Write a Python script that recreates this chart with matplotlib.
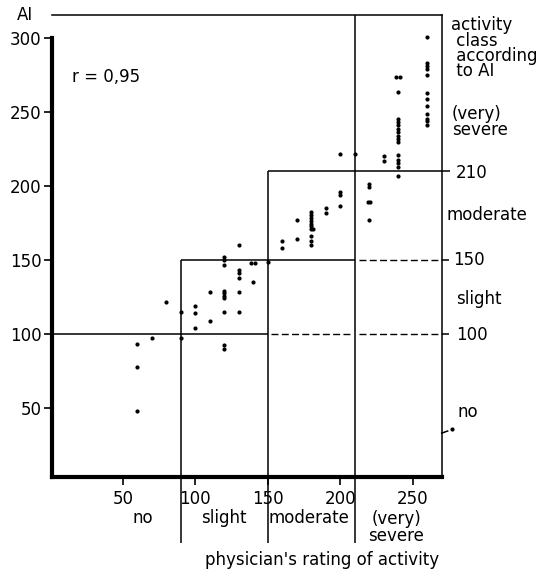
import matplotlib
matplotlib.use("Agg")
import matplotlib.pyplot as plt

plt.rcParams["font.family"] = "DejaVu Sans"
plt.rcParams["font.size"] = 12

# physician's rating (x) and activity index AI (y)
column_x = [60, 70, 80, 90, 100, 110, 120, 130, 138.5, 141, 140, 150,
            160, 170, 180, 181, 190, 200, 210, 220, 219.3, 220.7,
            230, 238.8, 241.5, 240, 260]
column_ai = [
    [92.7, 77.5, 47.7],
    [97.0],
    [121.5],
    [114.5, 97.2],
    [118.7, 114.2, 103.7],
    [128.0, 108.6],
    [152.0, 149.8, 146.5, 128.9, 127.3, 125.7, 124.0, 114.6, 92.4, 89.5],
    [160.0, 143.0, 141.0, 137.5, 128.4, 114.6],
    [147.6],
    [147.6],
    [135.2],
    [148.3],
    [162.7, 157.8],
    [176.6, 164.0],
    [182.5, 180.5, 178.5, 176.5, 174.5, 172.5, 170.5, 166.0, 162.8, 160.0],
    [170.5],
    [185.0, 181.7],
    [221.4, 196.1, 193.8, 186.6],
    [221.4],
    [201.5, 199.2, 176.9],
    [189.3],
    [189.3],
    [220.3, 216.8],
    [273.5],
    [273.5],
    [263.5, 245.5, 243.2, 240.9, 238.6, 236.3, 234.0, 231.7, 229.7,
     221.0, 217.5, 215.3, 213.0, 206.5],
    [300.5, 283.2, 281.2, 279.3, 275.0, 263.0, 258.6, 254.2, 248.8,
     245.5, 243.6, 241.5],
]

x_ticks = [50, 100, 150, 200, 250]
y_ticks = [50, 100, 150, 200, 250, 300]

# class limits
x_bounds = [90, 150, 210]
y_bounds = [100, 150, 210]
x_classes = ["no", "slight", "moderate", "(very)\nsevere"]
x_class_pos = [63.7, 120, 178.6, 238.6]

fig = plt.figure(figsize=(5.57, 5.70), dpi=100)
ax = fig.add_axes([52 / 557, 93 / 570, 390 / 557, 462 / 570])
x0, x1 = 1.2, 270.2
y0, y1 = 3, 315.6
ax.set_xlim(x0, x1)
ax.set_ylim(y0, y1)

for s in ["left", "bottom"]:
    ax.spines[s].set_linewidth(3)
for s in ["top", "right"]:
    ax.spines[s].set_linewidth(1.1)
ax.spines["left"].set_bounds(y0, 300)

ax.set_xticks(x_ticks)
ax.set_yticks(y_ticks)
ax.tick_params(direction="out", length=6, width=1.2, labelsize=12)
ax.tick_params(axis="y", pad=1.5)
ax.tick_params(axis="x", pad=3.5)

# points
xs, ys = [], []
for x, col in zip(column_x, column_ai):
    xs += [x] * len(col)
    ys += col
ax.plot(xs, ys, "o", color="k", ms=3, mec="none", zorder=3)

k = dict(color="k", lw=1.1, clip_on=False, solid_capstyle="butt")
dash = dict(color="k", lw=1.0, ls=(0, (5, 2.4)), clip_on=False)
low = -41.5

# staircase of class limits
ax.plot([x0, x_bounds[1]], [y_bounds[0]] * 2, **k)
ax.plot([x_bounds[0], x_bounds[2]], [y_bounds[1]] * 2, **k)
ax.plot([x_bounds[1], 276], [y_bounds[2]] * 2, **k)
ax.plot([x_bounds[0]] * 2, [low, y_bounds[1]], **k)
ax.plot([x_bounds[1]] * 2, [low, y_bounds[2]], **k)
ax.plot([x_bounds[2]] * 2, [low, y1], **k)

ax.plot([152.5, 206.5], [y_bounds[0]] * 2, **dash)
ax.plot([213, x1], [y_bounds[0]] * 2, **dash)
ax.plot([213, x1], [y_bounds[1]] * 2, **dash)
ax.plot([x1, 274.8], [y_bounds[0]] * 2, **k)
ax.plot([x1, 274.8], [y_bounds[1]] * 2, **k)
ax.plot([269.5, 274.6], [32.5, 34.3], **k)
ax.plot([277.3], [35.3], "o", color="k", ms=3, mec="none", clip_on=False)

# texts
ax.text(-17.4, y1, "AI", ha="center", va="center")
ax.text(15, 273.7, "r = 0,95", ha="left", va="center")

ax.text(276.4, 293.1, "activity\n class\n according\n to AI", ha="left",
        va="center", linespacing=0.82)
ax.text(277.0, 243.4, "(very)\nsevere", ha="left", va="center", linespacing=0.88)
right = [
    (280.0, 209.0, "210"),
    (273.0, 180.3, "moderate"),
    (277.8, 150.0, "150"),
    (280.0, 123.7, "slight"),
    (280.0, 99.0, "100"),
    (281.0, 47.0, "no"),
]
for x, y, t in right:
    ax.text(x, y, t, ha="left", va="center")

for x, t in zip(x_class_pos, x_classes):
    if "\n" in t:
        ax.text(x, -31.1, t, ha="center", va="center", linespacing=0.9)
    else:
        ax.text(x, -24.7, t, ha="center", va="center")
ax.text(187.4, -53.1, "physician's rating of activity", ha="center", va="center")

fig.savefig("out.png", dpi=100)
